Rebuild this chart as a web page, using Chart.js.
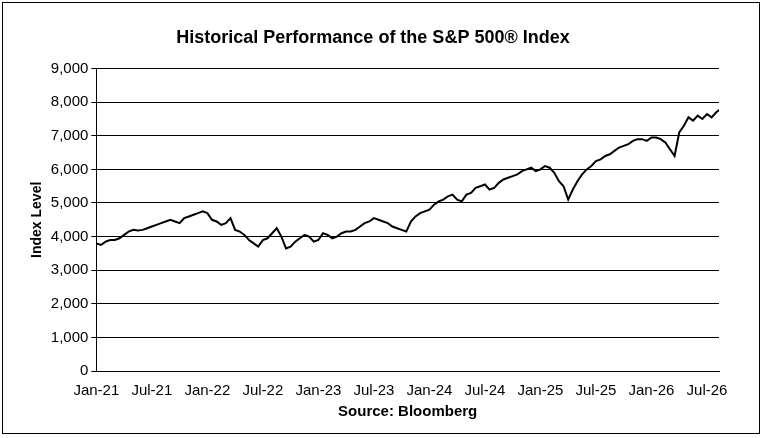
<!DOCTYPE html>
<html>
<head>
<meta charset="utf-8">
<script src="https://cdn.jsdelivr.net/npm/chart.js@4"></script>
<style>
  body { margin: 0; background: #fff; }
  #wrap { position: absolute; left: 2px; top: 2px; width: 758px; height: 432px; border: 1px solid #000; box-sizing: border-box; }
</style>
</head>
<body>
<div id="wrap"><canvas id="spChart"></canvas></div>
<script>
// semi-monthly index levels, Jan-21 .. Aug-26
const levels2021 = [3800,3750,3850,3900,3900,3950,4050,4150,4200,4180,4200,4250,4300,4350,4400,4450,4500,4450,4400,4550,4600,4650,4700,4750];
const levels2022 = [4700,4500,4450,4350,4400,4550,4200,4150,4050,3900,3800,3700,3900,3950,4100,4250,4000,3650,3700,3850,3950,4050,4000,3850];
const levels2023 = [3900,4100,4050,3950,4000,4100,4150,4150,4200,4300,4400,4450,4550,4500,4450,4400,4300,4250,4200,4150,4450,4600,4700,4750];
const levels2024 = [4800,4950,5050,5100,5200,5250,5100,5050,5250,5300,5450,5500,5550,5400,5450,5600,5700,5750,5800,5850,5950,6000,6050,5950];
const levels2025 = [6000,6100,6050,5900,5650,5500,5100,5400,5650,5850,6000,6100,6250,6300,6400,6450,6550,6650,6700,6750,6850,6900,6900,6850];
const levels2026 = [6950,6950,6900,6800,6600,6400,7100,7300,7550,7450,7600,7500,7650,7550,7700,7800];
const tickLabels = ['Jan-21','Jul-21','Jan-22','Jul-22','Jan-23','Jul-23','Jan-24','Jul-24','Jan-25','Jul-25','Jan-26','Jul-26'];

const allLevels = [].concat(levels2021, levels2022, levels2023, levels2024, levels2025, levels2026);
const points = allLevels.map((v, i) => ({ x: i * 0.5, y: v }));

Chart.defaults.font.family = '"Liberation Sans", Arial, sans-serif';
Chart.defaults.color = '#000';

new Chart(document.getElementById('spChart'), {
    type: 'line',
    data: {
        datasets: [{
            data: points,
            borderColor: '#000',
            borderWidth: 2,
            pointRadius: 0,
            tension: 0
        }]
    },
    options: {
        responsive: true,
        maintainAspectRatio: false,
        animation: false,
        layout: { padding: { left: 24, right: 40, top: 10, bottom: 12 } },
        plugins: {
            legend: { display: false },
            tooltip: { enabled: false },
            title: {
                display: true,
                text: 'Historical Performance of the S&P 500® Index',
                font: { size: 18, weight: 'bold' },
                padding: { top: 14, bottom: 20 }
            }
        },
        scales: {
            x: {
                type: 'linear',
                min: 0,
                max: 67.3,
                afterBuildTicks: axis => {
                    axis.ticks = tickLabels.map((l, i) => ({ value: i * 6 }));
                },
                ticks: {
                    font: { size: 15 },
                    maxRotation: 0,
                    autoSkip: false,
                    callback: v => tickLabels[v / 6]
                },
                grid: { display: false },
                border: { color: '#000', width: 1 },
                title: { display: true, text: 'Source: Bloomberg', font: { size: 15, weight: 'bold' }, padding: 0 }
            },
            y: {
                min: 0,
                max: 9000,
                ticks: {
                    stepSize: 1000,
                    font: { size: 15 },
                    callback: v => v.toLocaleString('en-US')
                },
                grid: { color: '#000', lineWidth: 1, drawTicks: true, tickLength: 5 },
                border: { color: '#000', width: 1 },
                title: { display: true, text: 'Index Level', font: { size: 14, weight: 'bold' }, padding: 2 }
            }
        }
    }
});
</script>
</body>
</html>
